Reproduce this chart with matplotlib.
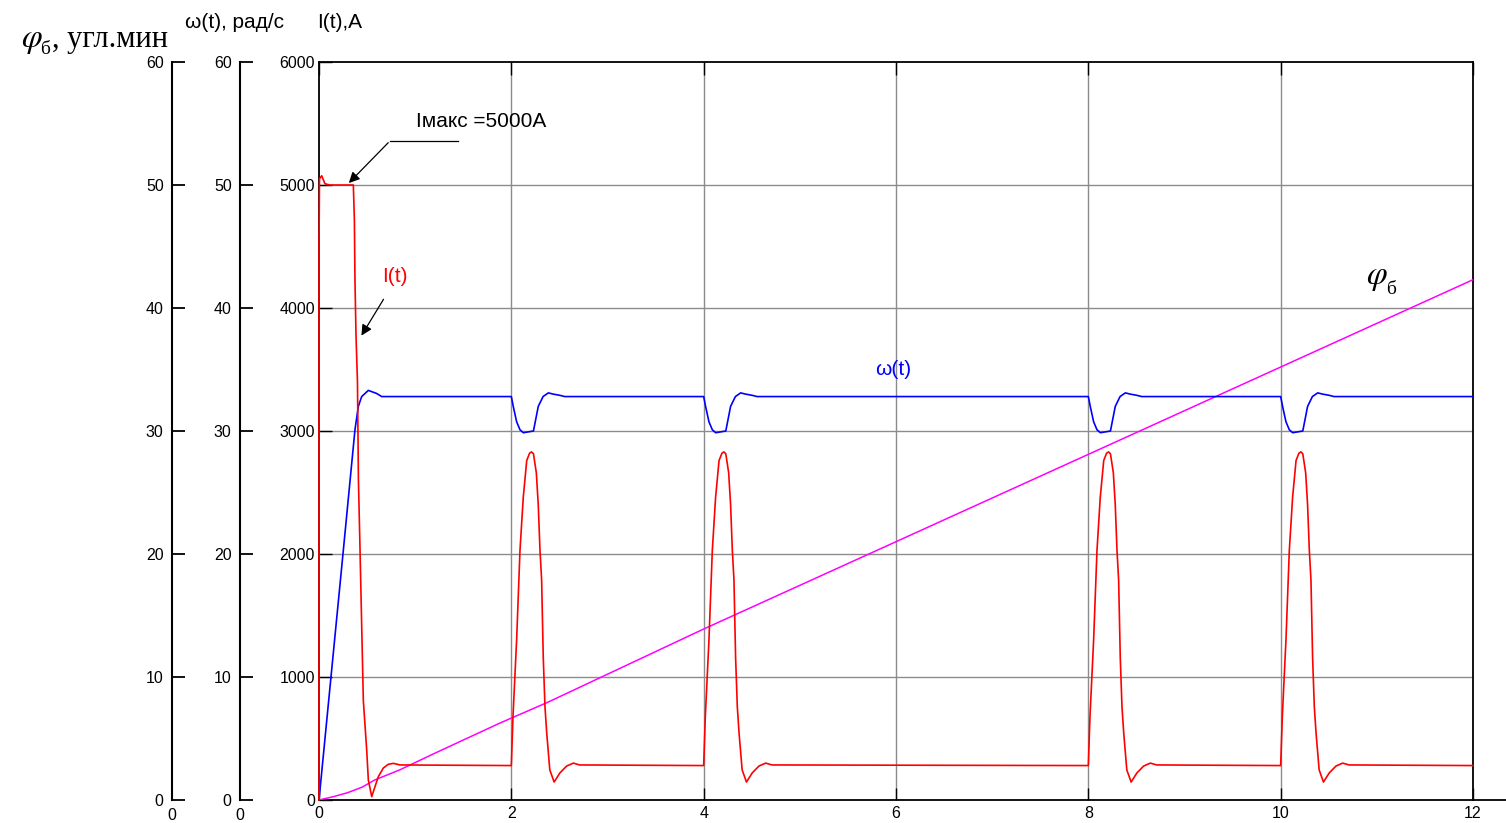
import matplotlib.pyplot as plt

plt.rcParams['font.family'] = ['Liberation Sans', 'DejaVu Sans']
plt.rcParams['mathtext.fontset'] = 'stix'

# current I(t), A -- start-up section
i_start_t = [0, 0, 0.005, 0.028, 0.062, 0.114, 0.357, 0.368, 0.374, 0.385, 0.40, 0.41,
             0.425, 0.461, 0.496, 0.513, 0.548, 0.582, 0.617, 0.669, 0.72, 0.773, 0.842]
i_start_v = [0, 4480, 5050, 5075, 5010, 5000, 5000, 4715, 4230, 3770, 3400, 2600,
             2090, 810, 406, 163, 27, 108, 190, 260, 290, 298, 285]
i_level = 280
i_max = 5000

# current pulse shape (time after pulse start, s)
pulse_dt = [0, 0.017, 0.055, 0.09, 0.124, 0.16, 0.19, 0.21, 0.23, 0.26, 0.28, 0.298,
            0.315, 0.332, 0.35, 0.368, 0.40, 0.445, 0.505, 0.575, 0.645, 0.71]
pulse_i = [280, 675, 1300, 2030, 2460, 2760, 2820, 2830, 2815, 2660, 2400, 2030,
           1790, 1160, 756, 545, 245, 146, 220, 276, 300, 285]
pulse_starts = [2, 4, 8, 10]

# speed w(t), rad/s
w_start_t = [0, 0.253, 0.374, 0.409, 0.444, 0.513, 0.60, 0.652]
w_start_v = [0, 20.3, 30.1, 32.0, 32.8, 33.3, 33.05, 32.8]
w_level = 32.8
dip_dt = [0, 0.02, 0.055, 0.09, 0.125, 0.23, 0.245, 0.28, 0.33, 0.385, 0.435, 0.505, 0.555]
dip_w = [32.8, 32.0, 30.75, 30.1, 29.86, 30.0, 30.6, 32.0, 32.8, 33.1, 33.0, 32.9, 32.8]

# angle phi_b, arc minutes
phi_t = [0, 0.15, 0.3, 0.45, 0.58, 0.84, 1.19, 1.535, 1.88, 2.38, 4, 6, 8, 10, 12]
phi_v = [0, 0.27, 0.6, 1.05, 1.63, 2.45, 3.75, 5.0, 6.25, 7.95, 13.9, 21.0, 28.1, 35.2, 42.3]

t_end = 12


def build(t0, v0, starts, dt, shape, level):
    t = list(t0)
    v = list(v0)
    for s in starts:
        t += [s + d for d in dt]
        v += shape
    t.append(t_end)
    v.append(level)
    return t, v


i_t, i_v = build(i_start_t, i_start_v, pulse_starts, pulse_dt, pulse_i, i_level)
w_t, w_v = build(w_start_t, w_start_v, pulse_starts, dip_dt, dip_w, w_level)

W, H = 1506, 823
fig = plt.figure(figsize=(W / 100, H / 100), dpi=100)


def px(x, y):
    return x / W, 1 - y / H


L, B = px(319, 800)
R, T = px(1473, 62)
ax = fig.add_axes([L, B, R - L, T - B])
ax.set_xlim(0, 12)
ax.set_ylim(0, 6000)
ax.set_xticks(range(0, 13, 2))
ax.set_yticks(range(0, 6001, 1000))
ax.tick_params(direction='in', length=9, width=1, labelsize=11.5, pad=4,
               top=True, right=True, colors='black')
ax.tick_params(axis='y', pad=3)
for s in ax.spines.values():
    s.set_linewidth(1.3)
    s.set_color('black')
ax.axhline(0, 1, 1.03, color='black', lw=1.3, clip_on=False)

for x in range(2, 12, 2):
    ax.axvline(x, color='#8c8c8c', lw=1, zorder=0)
for y in range(1000, 6000, 1000):
    ax.axhline(y, color='#8c8c8c', lw=1, zorder=0)

ax_w = ax.twinx()
ax_w.set_ylim(0, 60)
ax_w.axis('off')
ax_w.plot(phi_t, phi_v, color='#ff00ff', lw=1.1)
ax_w.plot(w_t, w_v, color='#0000ff', lw=1.2)
# current drawn on top, unclipped so the jump at t=0 shows over the spine
ax_w.plot(i_t, [v / 100 for v in i_v], color='#ff0000', lw=1.2, clip_on=False)

# extra scales on the left for phi and omega
for xpos in (172, 240):
    a = fig.add_axes([xpos / W, B, 1 / W, T - B])
    a.set_ylim(0, 60)
    a.set_xlim(0, 1)
    for name in ('top', 'right', 'bottom'):
        a.spines[name].set_visible(False)
    a.spines['left'].set_linewidth(1.5)
    a.set_yticks(range(0, 61, 10))
    a.set_xticks([0])
    a.tick_params(axis='y', direction='in', length=9, width=1.3, labelsize=11.5, pad=6)
    a.tick_params(axis='x', length=0, labelsize=11.5, pad=6)
    a.patch.set_visible(False)

# annotations
ax.annotate('', xy=(0.29, i_max), xytext=(0.74, 5360),
            arrowprops=dict(arrowstyle='-|>', color='black', lw=0.9, mutation_scale=16))
ax.plot([0.74, 1.45], [5360, 5360], color='black', lw=0.9)
ax.text(1.01, 5470, 'Iмакс =%dA' % i_max, fontsize=15, va='baseline', ha='left')

ax.annotate('', xy=(0.426, 3756), xytext=(0.686, 4090),
            arrowprops=dict(arrowstyle='-|>', color='black', lw=0.9, mutation_scale=16))
ax.text(0.79, 4255, 'I(t)', color='#ff0000', fontsize=15, ha='center', va='center')
ax.text(5.97, 3504, 'ω(t)', color='#0000ff', fontsize=15, ha='center', va='center')

ax.text(11.0, 4250, r'$\varphi$', fontsize=24, ha='center', va='center')
ax.text(11.15, 4150, 'б', fontsize=14, ha='center', va='center', family='Liberation Serif')

# axis titles
fig.text(*px(32, 40), r'$\varphi$', fontsize=24, ha='center', va='center')
fig.text(*px(45, 50), 'б', fontsize=14, ha='center', va='center', family='Liberation Serif')
fig.text(*px(52, 40), ', угл.мин', fontsize=22, ha='left', va='center',
         family='Liberation Serif')
fig.text(*px(185, 22), 'ω(t), рад/с', fontsize=15, ha='left', va='center')
fig.text(*px(317, 22), 'I(t),A', fontsize=15, ha='left', va='center')

fig.savefig('out.png', dpi=100)
